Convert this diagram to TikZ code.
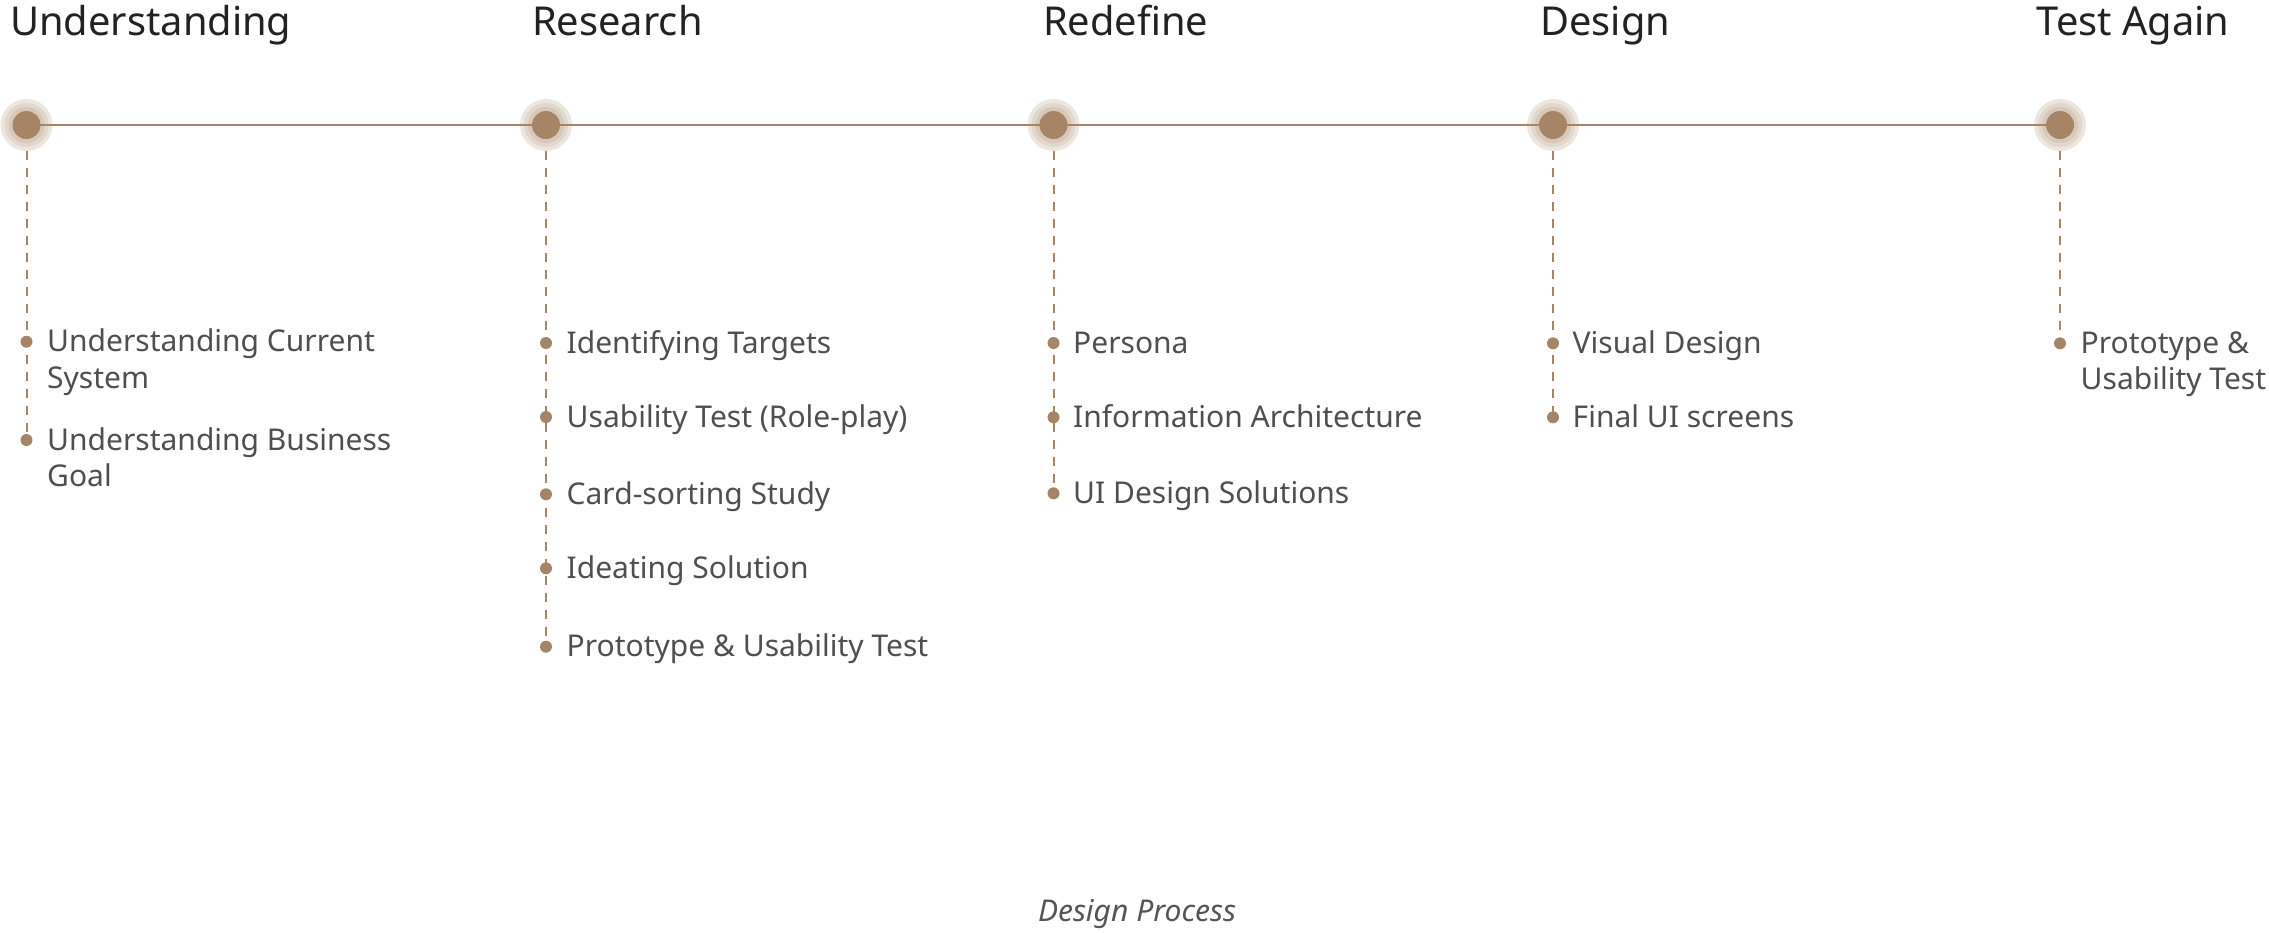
\documentclass[tikz,border=0pt]{standalone}
\usepackage{fontspec}
\setmainfont{Noto Sans}
\definecolor{tl}{HTML}{A68566}
\definecolor{haloA}{HTML}{EDE6DF}
\definecolor{haloB}{HTML}{E2D7CC}
\definecolor{haloC}{HTML}{D7C8B9}
\definecolor{headc}{HTML}{222222}
\definecolor{itemc}{HTML}{4F4F4F}
\definecolor{capc}{HTML}{555555}
\begin{document}
\begin{tikzpicture}[x=1pt,y=-1pt,
  halo/.style={circle,inner sep=0pt,minimum size=52pt,fill=haloA},
  core/.style={circle,inner sep=0pt,minimum size=28pt,fill=tl},
  dot/.style={circle,inner sep=0pt,minimum size=12pt,fill=tl},
  head/.style={anchor=base west,inner sep=0pt,text=headc,font=\fontsize{39.8}{46}\selectfont},
  item/.style={anchor=base west,inner sep=0pt,text=itemc,align=left,font=\fontsize{30}{36.6}\selectfont},
  tline/.style={draw=tl,line width=2pt},
  dline/.style={draw=tl,line width=2pt,dash pattern=on 9pt off 8pt}]
\useasboundingbox (0,0) rectangle (2269,932);

% headings
\node[head] (t1) at (10,35) {Understanding};
\node[head] (t2) at (532,35) {Research};
\node[head] (t3) at (1043,35) {Redefine};
\node[head] (t4) at (1540,35) {Design};
\node[head] (t5) at (2036.5,35) {Test Again};

% halos
\foreach \i/\x in {1/26.5,2/546,3/1053.5,4/1553,5/2060}{
  \node[halo] (h\i) at (\x,125) {};
  \fill[haloB] (h\i.center) circle (22);
  \fill[haloC] (h\i.center) circle (18);
}

% dots
\node[dot] (d11) at (26.5,341.7) {};
\node[dot] (d12) at (26.5,440) {};
\node[dot] (d21) at (546,343) {};
\node[dot] (d22) at (546,417) {};
\node[dot] (d23) at (546,494.3) {};
\node[dot] (d24) at (546,568.3) {};
\node[dot] (d25) at (546,646.7) {};
\node[dot] (d31) at (1053.5,343) {};
\node[dot] (d32) at (1053.5,417.3) {};
\node[dot] (d33) at (1053.5,493.3) {};
\node[dot] (d41) at (1553,343.3) {};
\node[dot] (d42) at (1553,417.3) {};
\node[dot] (d51) at (2060,343.3) {};

% dashed connectors
\draw[dline] (h1.south) -- (d12.center);
\draw[dline] (h2.south) -- (d25.center);
\draw[dline] (h3.south) -- (d33.center);
\draw[dline] (h4.south) -- (d42.center);
\draw[dline] (h5.south) -- (d51.center);

% main timeline
\draw[tline] (h1.center) -- (h5.center);

% cores
\node[core] (c1) at (h1.center) {};
\node[core] (c2) at (h2.center) {};
\node[core] (c3) at (h3.center) {};
\node[core] (c4) at (h4.center) {};
\node[core] (c5) at (h5.center) {};

% items (multi-line nodes are anchored at the baseline of their last line)
\node[item] (i11) at (47,388.3) {Understanding Current\\System};
\node[item] (i12) at (47,486.6) {Understanding Business\\Goal};
\node[item] (i21) at (566.5,353) {Identifying Targets};
\node[item] (i22) at (566.5,427) {Usability Test (Role-play)};
\node[item] (i23) at (566.5,504.3) {Card-sorting Study};
\node[item] (i24) at (566.5,578.3) {Ideating Solution};
\node[item] (i25) at (566.5,656.7) {Prototype \& Usability Test};
\node[item] (i31) at (1073,353) {Persona};
\node[item] (i32) at (1073,427.3) {Information Architecture};
\node[item] (i33) at (1073,503.3) {UI Design Solutions};
\node[item] (i41) at (1572.5,353.3) {Visual Design};
\node[item] (i42) at (1572.5,427.3) {Final UI screens};
\node[item] (i51) at (2080.5,389.9) {Prototype \&\\Usability Test};

% caption
\node[anchor=base,inner sep=0pt,text=capc,font=\fontsize{30}{36}\selectfont\itshape] (cap) at (1137,921.5) {Design Process};
\end{tikzpicture}
\end{document}
